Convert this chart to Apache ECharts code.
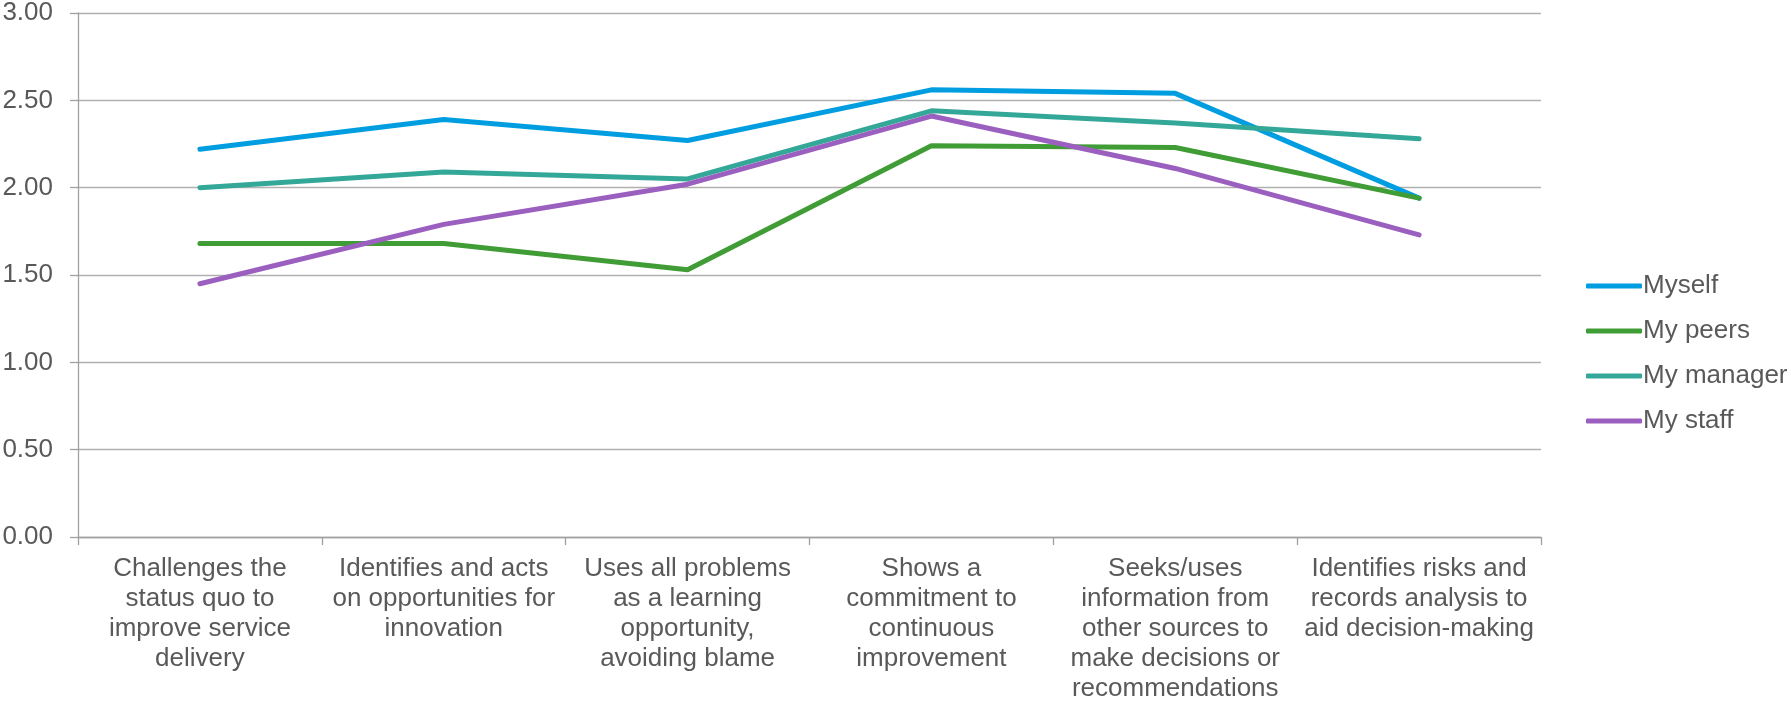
<!DOCTYPE html>
<html>
<head>
<meta charset="utf-8">
<script src="https://cdn.jsdelivr.net/npm/echarts@6/dist/echarts.min.js"></script>
<style>
  html, body { margin: 0; padding: 0; background: #fff; }
  #chart { width: 1791px; height: 703px; }
</style>
</head>
<body>
<div id="chart"></div>
<script>
// Competency categories (x axis), wrapped onto several lines
const categories = [
  'Challenges the\nstatus quo to\nimprove service\ndelivery',
  'Identifies and acts\non opportunities for\ninnovation',
  'Uses all problems\nas a learning\nopportunity,\navoiding blame',
  'Shows a\ncommitment to\ncontinuous\nimprovement',
  'Seeks/uses\ninformation from\nother sources to\nmake decisions or\nrecommendations',
  'Identifies risks and\nrecords analysis to\naid decision-making'
];

// Average ratings from each respondent group
const myself    = [2.22, 2.39, 2.27, 2.56, 2.54, 1.94];
const myPeers   = [1.68, 1.68, 1.53, 2.24, 2.23, 1.94];
const myManager = [2.00, 2.09, 2.05, 2.44, 2.37, 2.28];
const myStaff   = [1.45, 1.79, 2.02, 2.41, 2.11, 1.73];

const seriesNames = ['Myself', 'My peers', 'My manager', 'My staff'];
const seriesData = [myself, myPeers, myManager, myStaff];
const seriesColors = ['#009EE0', '#409D36', '#34A898', '#9B5FC0'];

const textColor = '#595959';
const fontFamily = '"Liberation Sans", Arial, sans-serif';

const chart = echarts.init(document.getElementById('chart'), null, { renderer: 'canvas' });

chart.setOption({
  animation: false,
  backgroundColor: '#ffffff',
  textStyle: { fontFamily: fontFamily, color: textColor },
  grid: {
    left: 78, right: 250, top: 13, bottom: 166,
    containLabel: false,
    outerBoundsMode: 'none'
  },
  legend: {
    orient: 'vertical',
    left: 1581,
    top: 268,
    itemWidth: 56,
    itemHeight: 5,
    itemGap: 19,
    icon: 'roundRect',
    textStyle: { fontSize: 26, color: textColor, fontFamily: fontFamily, padding: [0, 0, 0, -4] },
    data: seriesNames
  },
  xAxis: {
    type: 'category',
    data: categories,
    boundaryGap: true,
    axisLine: { show: true, lineStyle: { color: '#A0A0A0', width: 1.3 } },
    axisTick: { show: true, length: 8, lineStyle: { color: '#A0A0A0', width: 1.3 } },
    axisLabel: {
      interval: 0,
      margin: 17,
      fontSize: 26,
      lineHeight: 30,
      color: textColor,
      fontFamily: fontFamily,
      align: 'center'
    },
    splitLine: { show: false }
  },
  yAxis: {
    type: 'value',
    min: 0,
    max: 3,
    interval: 0.5,
    axisLine: { show: true, lineStyle: { color: '#A0A0A0', width: 1.3 } },
    axisTick: { show: true, length: 8, lineStyle: { color: '#A0A0A0', width: 1.3 } },
    axisLabel: {
      margin: 25,
      fontSize: 26,
      color: textColor,
      fontFamily: fontFamily,
      formatter: v => v.toFixed(2)
    },
    splitLine: { show: true, lineStyle: { color: '#B0B0B0', width: 1.3 } }
  },
  series: seriesNames.map((name, i) => ({
    name: name,
    type: 'line',
    data: seriesData[i],
    symbol: 'none',
    showSymbol: false,
    color: seriesColors[i],
    lineStyle: { width: 5, color: seriesColors[i], cap: 'round', join: 'round' },
    itemStyle: { color: seriesColors[i] }
  }))
});
</script>
</body>
</html>
